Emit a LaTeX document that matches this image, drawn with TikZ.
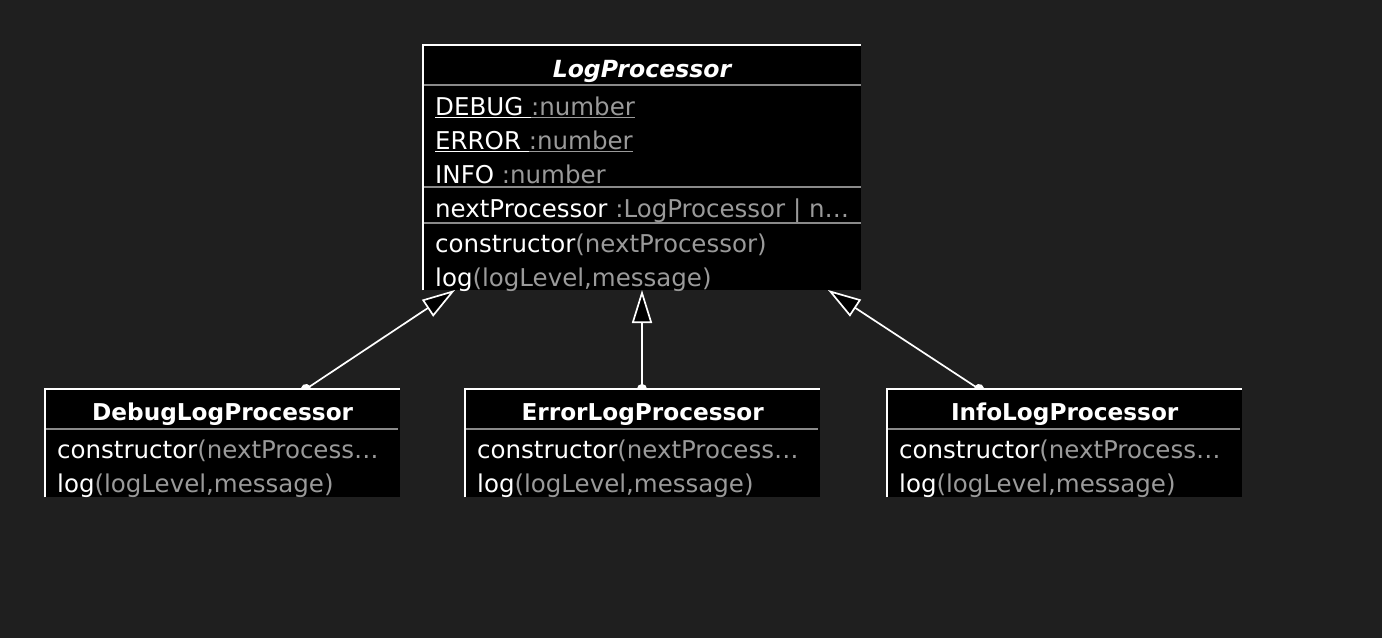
\documentclass[tikz,border=0pt]{standalone}
\usepackage{fontspec}
\setmainfont{DejaVu Sans}
\usetikzlibrary{arrows.meta,calc}
\definecolor{bgcol}{HTML}{1F1F1F}
\definecolor{typegray}{HTML}{9A9A9A}
\definecolor{sepgray}{HTML}{8A8A8A}
\newcommand{\tp}[1]{{\color{typegray}#1}}
\begin{document}
\begin{tikzpicture}[x=1pt,y=-1pt,
  umlbox/.style={fill=black, draw=none, inner sep=0pt, anchor=north west},
  edgeline/.style={draw=white, line width=2pt},
  sepline/.style={draw=sepgray, line width=1.5pt},
  txt/.style={text=white, inner sep=0pt, anchor=base west, font=\fontsize{24.5}{28}\selectfont},
  hdr/.style={text=white, inner sep=0pt, anchor=base, font=\fontsize{23.2}{28}\selectfont\bfseries},
  inh/.style={draw=white, line width=1.7pt, shorten <=-5pt, {Circle[length=10pt]}-{Triangle[open,length=33pt,width=20pt,fill=black]}}
]
\useasboundingbox[fill=bgcol] (0,0) rectangle (1382,638);

% coordinates for connector ends
\coordinate (s1) at (306,389);
\coordinate (s2) at (642,389);
\coordinate (s3) at (979,389);
\coordinate (t1) at (455,290);
\coordinate (t2) at (642,290);
\coordinate (t3) at (828,290);

\draw[inh] (s1) -- (t1);
\draw[inh] (s2) -- (t2);
\draw[inh] (s3) -- (t3);

% LogProcessor
\node[umlbox, minimum width=438pt, minimum height=245pt] (lp) at (423,45) {};
\draw[edgeline] (lp.south west) -- (lp.north west) -- (lp.north east);
\node[hdr, font=\fontsize{23.6}{28}\selectfont\bfseries\itshape] (lph) at (642,77) {LogProcessor};
\draw[sepline] (424,85) -- (861,85);
\node[txt] (lp1) at (435,115) {\underline{DEBUG }{\color{typegray}\underline{:number}}};
\node[txt] (lp2) at (435,149) {\underline{ERROR }{\color{typegray}\underline{:number}}};
\node[txt] (lp3) at (435,183) {INFO \tp{:number}};
\draw[sepline] (424,187) -- (861,187);
\node[txt] (lp4) at (435,217) {nextProcessor \tp{:LogProcessor | n…}};
\draw[sepline] (424,223) -- (861,223);
\node[txt] (lp5) at (435,252) {constructor\tp{(nextProcessor)}};
\node[txt] (lp6) at (435,286) {log\tp{(logLevel,message)}};

% subclasses
\foreach \nm/\lbl/\x in {dbg/DebugLogProcessor/45, err/ErrorLogProcessor/465, inf/InfoLogProcessor/887}{
  \node[umlbox, minimum width=355pt, minimum height=108pt] (\nm) at (\x,389) {};
  \draw[edgeline] (\nm.south west) -- (\nm.north west) -- (\nm.north east);
  \node[hdr] (\nm-h) at ($(\nm.north)+(0,31)$) {\lbl};
  \draw[sepline] ($(\nm.north west)+(1,40)$) -- ($(\nm.north east)+(-2,40)$);
  \node[txt] (\nm-1) at ($(\nm.north west)+(12,69)$) {constructor\tp{(nextProcess…}};
  \node[txt] (\nm-2) at ($(\nm.north west)+(12,103)$) {log\tp{(logLevel,message)}};
}
\end{tikzpicture}
\end{document}
